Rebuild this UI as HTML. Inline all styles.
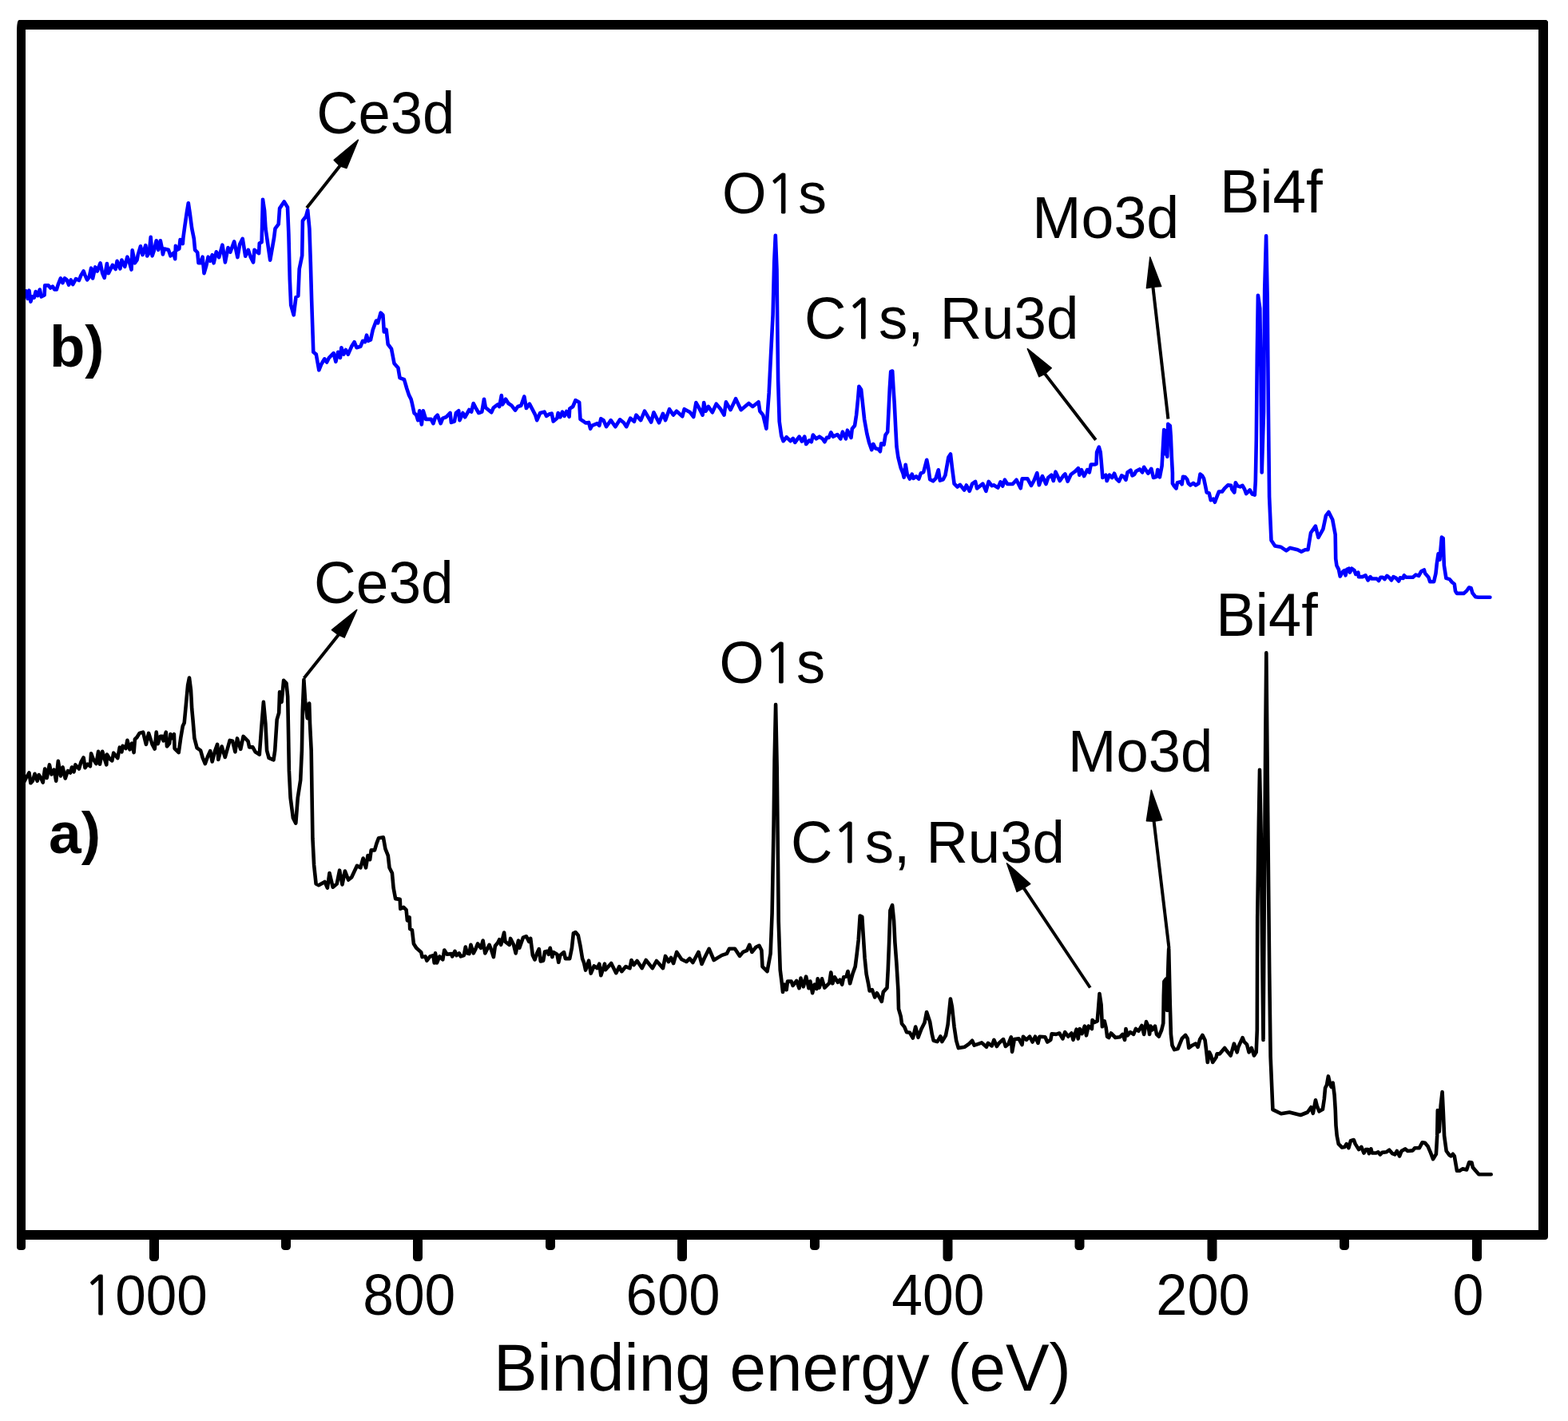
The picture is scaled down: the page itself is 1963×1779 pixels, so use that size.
<!DOCTYPE html><html><head><meta charset="utf-8"><title>XPS survey spectra</title><style>html,body{margin:0;padding:0;background:#fff;overflow:hidden;}svg{display:block;}text{font-family:"Liberation Sans",Arial,sans-serif;fill:#000;}</style></head><body>
<svg width="1963" height="1779" viewBox="0 0 1963 1779">
<rect x="0" y="0" width="1963" height="1779" fill="#fff"/>
<polyline fill="none" stroke="#0000ff" stroke-width="4.6" stroke-linejoin="round" stroke-linecap="round" points="26.0,375.2 26.3,375.2 30.1,365.0 32.6,364.4 34.6,373.9 36.5,363.7 38.4,377.7 40.3,371.4 42.8,372.6 44.7,365.0 47.3,370.1 49.8,362.5 51.7,371.4 55.6,369.5 56.2,357.4 60.7,357.4 63.2,360.5 65.8,358.6 68.3,362.5 70.8,362.5 72.8,356.1 75.9,348.4 78.5,354.2 81.0,348.4 83.6,350.4 86.1,356.7 88.7,350.4 91.2,356.1 95.0,349.1 98.9,351.0 101.4,344.6 104.6,339.5 106.5,344.6 109.1,350.4 111.6,347.2 114.1,335.7 116.1,348.4 119.2,334.4 121.8,339.5 125.6,329.3 128.2,342.1 130.7,347.8 133.9,330.0 135.8,342.1 140.9,331.9 144.7,337.0 146.6,326.8 150.4,336.3 152.4,325.5 156.2,333.8 159.4,321.7 161.9,328.1 164.5,337.6 165.7,313.4 168.9,329.3 171.5,325.5 172.7,319.1 175.9,308.3 178.5,319.1 182.3,307.1 184.2,320.4 186.7,316.6 188.7,296.9 190.6,320.4 193.1,312.8 195.7,301.3 198.2,312.8 200.8,301.3 202.7,310.2 203.9,318.5 205.8,311.5 210.9,312.8 213.5,320.4 217.3,316.6 219.2,324.2 219.9,307.7 221.8,312.8 224.3,311.5 225.6,300.0 228.8,305.1 229.4,297.5 231.3,283.5 233.9,265.7 235.8,254.2 237.7,266.9 240.2,286.0 242.8,298.8 244.1,312.8 247.2,316.0 248.5,329.3 251.1,329.3 253.6,321.7 255.5,342.1 258.1,333.2 260.6,321.7 263.2,326.8 265.7,319.1 267.6,329.3 270.8,315.3 274.2,322.1 278.4,306.6 281.9,328.4 285.5,310.1 288.3,315.7 293.2,302.4 297.4,322.1 300.2,305.9 303.7,298.9 307.2,320.7 310.8,312.9 313.6,321.4 317.1,328.4 318.5,312.9 324.1,317.1 324.8,304.5 327.6,303.1 329.0,249.7 331.1,263.7 332.5,286.2 338.2,325.6 343.1,297.5 344.5,286.2 348.7,280.6 350.1,260.9 355.7,252.5 360.0,259.5 361.4,293.2 362.8,349.5 364.2,381.8 367.7,394.4 370.5,372.0 373.3,370.5 374.7,336.8 378.2,320.0 378.9,276.4 383.1,270.8 385.2,263.0 387.4,286.2 388.8,328.4 390.2,377.6 391.6,419.7 392.3,440.8 395.8,443.6 399.3,463.3 402.1,456.3 406.3,449.3 409.1,453.5 412.0,447.8 417.6,442.2 420.4,452.8 423.2,440.8 426.0,447.8 427.4,435.2 430.2,443.6 433.0,438.0 435.8,443.6 440.1,433.8 443.6,428.2 446.4,435.2 451.3,433.8 454.1,426.8 456.9,428.2 459.0,419.7 461.1,426.8 464.0,425.4 466.8,412.7 471.0,401.5 473.1,404.3 476.6,391.6 479.4,394.4 480.8,415.5 483.6,412.7 485.7,431.0 490.0,436.6 493.5,454.9 498.4,460.5 500.5,473.1 504.7,474.6 506.0,475.2 509.3,486.5 511.9,494.4 514.6,499.7 515.9,505.0 518.5,517.0 521.2,519.6 523.2,526.2 525.2,514.3 527.8,531.5 529.8,514.3 533.1,524.9 539.7,524.9 542.4,530.2 545.0,522.3 547.7,519.6 551.7,530.2 554.3,523.6 558.3,522.3 563.6,517.0 564.9,528.9 568.9,527.5 570.9,517.0 574.2,514.3 575.5,526.2 579.5,517.0 582.1,522.3 587.4,513.0 590.1,515.6 592.7,505.0 595.4,510.3 599.3,517.0 603.3,515.6 606.0,499.7 607.9,510.3 615.2,516.3 617.9,510.3 623.2,506.4 625.2,509.0 627.8,495.1 629.1,506.4 633.1,499.7 636.4,505.0 640.4,507.7 645.0,513.6 648.3,509.0 652.3,507.7 656.3,496.4 658.9,511.0 662.9,505.7 667.5,514.3 670.2,519.6 672.2,526.2 676.2,517.0 681.5,515.6 684.1,520.9 688.1,518.3 690.7,517.6 692.7,527.5 697.4,523.6 698.7,517.0 701.3,522.3 704.0,515.6 706.6,520.9 709.3,515.0 712.6,521.6 713.2,511.7 717.2,509.0 720.5,501.1 725.2,503.7 726.5,524.9 730.5,527.5 733.1,529.5 737.1,528.9 739.1,536.8 741.1,532.8 747.7,530.2 750.3,532.8 752.3,524.2 755.6,526.2 759.0,534.2 764.7,526.1 770.4,534.2 776.1,525.3 781.0,529.3 784.2,534.2 789.1,523.6 794.0,527.7 796.4,519.6 802.2,526.1 807.0,514.7 815.2,528.5 818.4,516.3 825.0,529.3 829.9,517.9 833.1,526.1 838.0,512.2 842.9,519.6 847.0,514.7 854.3,521.2 856.7,512.2 864.1,516.3 868.2,522.0 871.4,504.1 875.5,511.4 879.6,519.6 881.2,504.1 883.6,514.7 886.9,509.0 891.8,516.3 896.7,505.7 901.6,511.4 906.5,519.6 908.9,503.3 914.6,513.1 921.1,499.2 927.6,513.1 931.7,509.8 937.4,504.9 942.3,509.0 949.6,503.3 951.3,514.7 955.3,519.6 959.4,536.7 962.7,491.9 965.1,443.0 967.6,394.1 969.2,328.9 970.8,294.7 972.5,337.0 973.3,410.4 974.1,475.6 975.7,527.7 978.2,545.6 980.6,552.2 984.7,547.3 989.6,552.2 992.8,548.9 995.3,553.9 1000.6,546.6 1003.9,552.6 1007.2,546.6 1009.2,555.9 1013.2,551.3 1015.8,553.2 1017.8,544.6 1021.8,549.3 1025.8,546.6 1029.7,549.3 1032.4,553.2 1035.0,547.9 1037.7,547.9 1040.3,541.3 1043.0,546.6 1048.3,544.0 1052.3,549.3 1054.9,540.7 1058.9,549.3 1060.9,538.7 1065.5,547.9 1066.8,536.7 1070.1,532.7 1072.1,519.5 1074.1,499.6 1075.4,483.7 1078.1,487.7 1080.1,506.2 1082.1,524.8 1085.4,543.3 1088.0,553.9 1091.3,563.2 1093.3,555.9 1096.0,561.2 1099.9,562.5 1101.9,565.2 1103.2,555.2 1106.6,556.6 1108.5,544.6 1111.2,540.7 1112.5,514.2 1113.8,486.4 1115.2,465.2 1117.2,464.5 1118.5,486.4 1119.8,506.2 1121.1,532.7 1122.5,559.2 1124.4,572.5 1127.7,585.7 1130.4,592.3 1131.7,597.6 1133.7,581.7 1135.7,593.6 1139.0,599.6 1141.7,593.6 1143.6,598.9 1147.0,596.3 1150.3,599.6 1152.9,592.3 1156.2,591.0 1160.2,575.8 1162.2,585.7 1164.2,600.3 1168.1,602.3 1171.5,598.9 1174.8,588.3 1176.8,601.6 1180.7,600.3 1183.4,595.0 1187.4,572.5 1190.0,568.5 1192.0,585.7 1194.6,605.6 1198.6,609.5 1201.9,606.9 1207.2,613.5 1209.9,607.5 1213.8,614.8 1217.2,605.6 1221.1,602.9 1223.1,611.5 1230.4,605.6 1234.4,614.8 1237.7,602.9 1241.7,608.2 1244.0,607.3 1249.3,610.6 1252.6,603.3 1255.2,608.6 1257.9,600.7 1261.2,606.0 1267.8,606.0 1272.5,600.7 1277.7,611.3 1279.7,599.3 1286.4,599.3 1291.0,607.9 1294.3,602.0 1298.3,592.1 1300.9,607.3 1304.9,596.0 1309.5,606.0 1312.2,598.0 1316.2,594.7 1318.8,602.0 1321.5,590.7 1326.8,602.0 1331.4,595.4 1333.4,593.4 1336.7,602.6 1340.7,594.0 1346.0,590.1 1349.9,586.1 1351.3,594.7 1353.9,588.1 1357.2,596.0 1361.2,588.1 1363.8,591.4 1365.8,581.5 1370.5,581.5 1372.5,580.8 1373.1,566.2 1375.8,559.6 1377.7,566.2 1379.1,582.1 1380.4,598.0 1384.4,594.7 1385.7,602.0 1389.0,594.7 1392.3,598.0 1395.0,592.7 1397.6,599.3 1400.9,602.6 1404.2,595.4 1406.9,596.7 1409.5,600.7 1411.5,591.4 1415.5,588.7 1417.5,595.4 1420.1,594.0 1422.1,590.1 1426.8,587.4 1430.1,591.4 1432.1,584.8 1437.4,592.7 1441.3,586.8 1444.0,598.0 1447.9,596.7 1449.3,588.1 1451.9,597.4 1454.6,583.4 1457.2,538.1 1458.7,539.1 1459.7,568.6 1460.8,544.2 1461.3,571.7 1462.3,530.9 1464.8,533.0 1465.8,547.2 1466.9,573.7 1467.9,592.1 1467.9,605.3 1469.9,608.4 1472.5,611.4 1474.0,604.3 1478.1,603.3 1479.6,606.3 1481.1,596.7 1483.7,597.2 1486.2,600.2 1487.8,605.3 1490.3,607.4 1493.9,604.8 1496.9,607.4 1500.5,605.3 1502.5,593.6 1505.1,595.6 1507.1,599.2 1508.6,606.3 1510.7,616.5 1513.7,617.5 1515.8,626.2 1518.8,624.7 1520.9,628.8 1523.9,620.6 1526.0,615.5 1530.0,615.5 1533.1,611.4 1537.2,607.4 1541.2,607.9 1542.3,612.5 1545.3,616.5 1546.8,604.3 1549.4,608.4 1552.5,609.4 1555.5,607.9 1558.1,612.5 1560.1,618.1 1564.7,613.5 1567.7,618.6 1570.8,619.6 1571.8,602.3 1572.8,551.3 1573.8,445.2 1574.9,369.7 1577.3,386.2 1578.5,468.8 1579.7,591.5 1582.0,516.0 1583.2,362.6 1585.1,295.3 1586.7,374.4 1587.9,516.0 1589.1,622.1 1591.5,676.4 1596.2,683.5 1603.3,684.7 1610.3,689.4 1615.1,685.9 1624.5,688.2 1629.2,690.6 1633.9,688.2 1637.5,688.2 1641.0,667.0 1646.9,658.7 1650.5,672.9 1656.4,662.3 1659.9,645.7 1663.4,641.0 1668.2,650.5 1671.7,669.3 1672.2,699.5 1673.4,708.0 1675.9,712.9 1677.7,721.5 1681.4,715.4 1683.2,714.1 1684.5,720.3 1686.3,712.9 1688.7,711.7 1690.0,716.6 1692.4,711.7 1695.5,714.1 1697.3,719.0 1700.3,716.6 1701.0,722.1 1705.8,722.1 1709.5,720.3 1712.6,726.4 1715.6,722.1 1717.5,724.5 1723.6,724.5 1726.0,727.0 1728.5,722.7 1730.9,722.7 1733.4,725.1 1736.4,720.9 1739.5,723.3 1741.9,726.4 1744.4,722.1 1748.0,723.9 1751.1,727.6 1752.9,723.3 1756.6,723.9 1757.8,720.3 1760.3,722.7 1768.8,722.7 1772.5,719.6 1776.2,720.9 1779.2,715.4 1782.9,713.5 1784.1,717.8 1788.4,722.7 1790.2,728.2 1795.1,728.2 1797.5,717.8 1798.8,705.6 1800.6,693.4 1802.4,700.7 1804.9,672.6 1806.7,673.8 1807.3,693.4 1807.9,708.0 1810.4,723.9 1814.7,725.1 1817.7,728.8 1820.8,731.3 1822.0,739.8 1823.8,742.9 1832.4,742.9 1836.1,739.8 1839.1,735.5 1841.6,736.2 1843.4,742.3 1847.1,747.2 1850.7,747.8 1865.4,747.8"/>
<polyline fill="none" stroke="#000" stroke-width="4.6" stroke-linejoin="round" stroke-linecap="round" points="26.0,979.0 30.1,979.0 32.6,973.9 36.5,967.5 38.4,980.3 40.9,977.7 43.5,968.8 46.7,977.7 48.6,970.1 51.1,973.9 53.7,979.6 56.2,962.5 58.7,973.9 61.9,957.4 64.5,969.5 67.7,963.7 70.2,977.7 72.8,952.9 75.9,971.4 78.5,960.5 81.7,974.5 84.9,965.0 88.0,967.5 90.0,960.5 92.5,966.3 94.4,957.4 98.9,962.5 101.4,954.2 104.6,948.4 106.5,961.2 109.7,956.7 112.9,959.3 114.1,943.3 116.7,950.4 120.5,956.1 123.1,940.8 125.0,956.7 128.2,940.8 130.7,949.7 133.3,957.4 133.9,944.6 137.7,950.4 140.3,952.3 142.2,942.7 147.3,949.1 149.8,935.7 152.4,941.4 153.6,933.8 157.5,937.0 159.4,926.8 162.5,938.3 165.1,930.6 167.6,942.1 168.9,925.5 171.5,923.0 174.6,917.9 179.1,916.6 182.9,931.9 186.1,917.9 190.6,931.9 193.7,937.6 195.7,916.6 197.6,931.2 200.8,921.7 203.3,921.7 204.6,927.4 207.8,916.6 209.0,934.4 212.2,930.6 213.5,919.1 216.0,924.2 217.9,919.1 218.6,937.0 223.7,942.1 226.2,924.2 228.8,909.0 230.7,905.1 233.2,878.4 235.1,858.0 237.0,848.5 239.0,864.4 240.2,887.3 241.5,901.3 243.4,924.2 246.6,936.3 251.1,939.5 253.6,948.4 256.8,956.1 260.0,947.2 263.2,940.2 265.7,953.5 268.9,940.8 272.1,931.9 273.3,951.0 273.4,950.6 277.6,934.5 281.8,948.0 287.7,926.9 291.1,927.8 294.4,941.3 297.0,924.4 301.2,937.9 304.6,921.9 310.5,927.8 312.2,935.4 316.4,935.4 319.7,941.3 324.8,944.7 327.3,910.9 329.9,878.9 332.4,905.9 334.1,939.6 336.6,948.9 342.5,951.4 344.2,939.6 346.7,900.8 349.2,892.4 350.1,866.3 352.6,878.9 355.1,851.9 358.5,855.3 360.2,872.2 361.0,914.3 361.9,964.9 363.6,998.6 366.9,1023.9 370.3,1030.6 372.8,998.6 376.2,976.7 377.9,939.6 378.8,889.0 380.4,851.1 382.1,877.2 384.7,899.1 387.2,880.6 388.0,905.9 389.7,939.6 390.6,998.6 391.4,1049.2 393.1,1082.9 395.6,1106.5 399.0,1108.2 406.6,1104.0 409.9,1111.6 412.5,1093.0 416.7,1110.7 421.7,1106.5 425.1,1089.7 428.5,1107.4 431.9,1090.5 436.1,1101.5 440.3,1098.1 447.0,1083.8 451.3,1086.3 454.6,1074.5 458.0,1086.3 460.5,1071.1 463.1,1076.2 464.7,1064.4 469.0,1064.4 471.5,1055.9 474.0,1049.2 479.9,1048.3 482.4,1062.7 485.8,1071.1 487.5,1086.3 490.9,1093.0 492.6,1111.6 495.1,1125.1 500.7,1125.9 501.3,1137.8 505.3,1135.8 508.6,1139.1 509.9,1152.4 512.6,1148.4 513.2,1163.0 515.9,1164.3 517.9,1181.5 521.2,1186.8 527.2,1192.1 528.5,1198.1 532.5,1197.4 534.4,1202.7 538.4,1197.4 542.4,1196.1 543.7,1205.4 545.0,1193.4 547.0,1205.4 550.3,1197.4 554.3,1201.4 556.3,1189.5 559.6,1194.8 564.9,1194.1 566.2,1197.4 569.5,1190.8 571.5,1196.1 574.8,1193.4 576.8,1197.4 580.8,1196.1 582.8,1185.5 584.8,1193.4 587.4,1194.1 589.4,1182.8 592.7,1193.4 595.4,1188.1 598.0,1181.5 602.0,1186.8 604.6,1177.5 607.3,1193.4 612.6,1182.8 615.2,1189.5 617.9,1198.1 619.9,1184.2 623.2,1180.2 625.2,1176.2 627.2,1182.8 631.1,1167.6 632.5,1178.9 637.7,1182.8 639.1,1174.9 643.0,1182.8 645.7,1193.4 649.0,1177.5 650.3,1186.8 655.0,1173.6 658.9,1172.3 662.3,1178.9 664.2,1174.9 666.9,1196.1 669.5,1201.4 672.2,1193.4 674.8,1188.1 676.8,1203.4 680.1,1202.7 682.1,1191.5 685.4,1190.8 686.8,1194.8 688.7,1186.8 691.4,1198.1 692.7,1192.1 697.4,1194.8 699.3,1204.7 701.3,1196.1 706.0,1192.1 707.9,1200.1 713.2,1200.1 715.9,1186.8 717.9,1168.3 720.5,1167.0 723.8,1170.9 726.5,1184.2 729.1,1200.1 731.1,1205.4 733.1,1214.6 737.1,1202.7 739.7,1218.6 743.7,1209.3 747.7,1212.0 750.3,1206.7 752.3,1221.3 757.0,1206.7 758.1,1214.1 765.2,1206.0 771.3,1218.2 775.3,1210.1 778.3,1216.2 783.4,1210.1 788.5,1212.1 790.5,1202.0 793.5,1208.1 797.6,1203.0 803.6,1212.1 808.7,1202.0 816.8,1212.1 821.9,1203.0 830.0,1212.1 833.0,1196.9 837.0,1204.0 840.1,1198.9 843.1,1206.0 847.2,1191.9 853.2,1201.0 859.3,1204.0 863.4,1200.0 867.4,1205.0 874.5,1191.9 878.5,1207.0 881.6,1200.0 887.7,1187.8 893.7,1202.0 898.8,1198.9 903.8,1195.9 909.9,1193.9 913.0,1187.8 920.0,1187.8 926.1,1196.9 930.2,1191.9 935.2,1189.8 938.3,1182.8 941.3,1191.9 946.4,1185.8 950.4,1183.8 953.4,1189.8 954.5,1210.1 960.5,1216.2 964.6,1193.9 966.6,1143.3 968.6,1031.9 969.6,951.0 971.1,882.1 972.7,961.1 973.7,1052.2 974.7,1153.4 976.7,1214.1 978.7,1230.1 980.0,1241.9 982.0,1232.6 984.6,1239.2 986.0,1228.6 990.6,1228.6 992.6,1233.9 997.2,1227.9 1000.5,1237.2 1002.5,1224.6 1005.8,1235.2 1009.1,1222.6 1012.5,1237.2 1014.4,1228.6 1017.1,1243.2 1019.7,1232.6 1022.4,1237.9 1023.7,1225.3 1025.7,1236.6 1029.0,1225.3 1032.3,1236.6 1038.3,1230.6 1040.3,1217.4 1042.3,1231.3 1044.9,1223.3 1048.9,1229.9 1051.5,1226.6 1054.2,1232.6 1056.2,1223.3 1059.5,1222.6 1061.5,1216.0 1064.1,1231.3 1067.4,1219.3 1070.7,1210.1 1072.7,1194.2 1074.7,1177.0 1076.7,1146.5 1079.3,1147.8 1080.7,1170.3 1082.6,1199.5 1084.6,1219.3 1087.3,1232.6 1088.6,1240.5 1091.9,1239.2 1095.2,1248.5 1097.9,1243.2 1101.2,1249.1 1103.8,1253.8 1105.8,1241.9 1110.5,1236.6 1111.8,1212.7 1113.1,1179.6 1114.4,1139.9 1117.1,1133.2 1119.1,1153.1 1120.4,1179.6 1122.4,1206.1 1124.4,1239.2 1125.0,1263.0 1127.7,1272.3 1129.0,1281.6 1132.3,1285.6 1135.0,1292.2 1138.9,1292.8 1142.9,1299.5 1146.2,1285.6 1149.5,1298.8 1153.5,1288.2 1157.5,1280.3 1160.1,1267.0 1164.1,1278.9 1166.8,1294.8 1168.7,1302.8 1173.4,1304.1 1177.4,1297.5 1179.3,1304.1 1184.0,1296.2 1186.6,1282.9 1189.9,1250.5 1191.9,1260.4 1194.6,1285.6 1197.2,1302.8 1199.9,1312.1 1207.8,1310.7 1213.1,1306.8 1217.1,1302.8 1219.7,1308.7 1225.0,1306.8 1229.0,1305.4 1235.0,1310.7 1236.9,1305.9 1241.7,1309.4 1244.4,1301.8 1247.9,1310.0 1250.6,1305.9 1256.1,1301.1 1258.9,1310.0 1262.3,1307.3 1265.8,1298.3 1267.1,1316.9 1269.9,1301.1 1275.4,1300.4 1279.5,1308.0 1280.9,1297.7 1285.0,1301.8 1289.1,1297.7 1292.6,1304.5 1296.0,1297.7 1299.5,1305.9 1301.5,1297.7 1308.4,1298.3 1311.2,1304.5 1315.3,1301.8 1316.7,1294.2 1322.2,1294.9 1326.3,1293.5 1330.4,1300.4 1333.2,1292.2 1337.3,1297.7 1341.4,1293.5 1343.5,1301.8 1347.6,1288.7 1349.7,1300.4 1351.7,1288.0 1354.5,1294.2 1357.9,1284.6 1360.0,1296.3 1362.7,1284.6 1366.9,1288.0 1367.6,1277.0 1370.3,1279.8 1373.7,1278.4 1375.1,1261.9 1376.5,1244.0 1378.6,1257.8 1379.9,1285.3 1382.7,1278.4 1384.7,1286.7 1386.1,1297.7 1388.2,1299.0 1390.9,1293.5 1396.4,1299.0 1401.9,1298.3 1405.4,1294.9 1408.1,1301.8 1409.5,1288.0 1411.6,1296.3 1415.0,1292.2 1419.1,1294.9 1421.9,1288.0 1425.3,1290.8 1429.4,1283.9 1432.2,1294.9 1435.0,1279.1 1437.7,1285.3 1439.1,1294.9 1440.5,1284.6 1442.5,1289.4 1446.0,1284.6 1448.0,1294.9 1450.8,1297.7 1454.2,1289.5 1456.3,1281.0 1456.8,1246.8 1457.4,1228.6 1460.0,1225.4 1461.1,1264.9 1461.6,1236.1 1462.7,1200.9 1463.2,1188.1 1464.8,1257.5 1465.9,1294.8 1467.5,1308.7 1470.2,1314.1 1474.5,1313.0 1479.8,1300.2 1484.1,1295.9 1486.7,1300.2 1488.3,1311.9 1492.6,1308.7 1496.9,1306.6 1499.6,1310.8 1502.2,1301.2 1505.4,1295.9 1508.6,1302.3 1510.2,1315.1 1511.8,1330.0 1514.0,1317.3 1516.1,1321.5 1518.2,1330.0 1522.5,1323.7 1523.6,1319.4 1526.8,1319.4 1533.2,1311.9 1535.3,1315.1 1540.7,1321.5 1544.9,1306.6 1548.7,1317.3 1550.3,1310.8 1555.6,1299.1 1557.7,1304.4 1561.0,1307.6 1563.6,1317.3 1566.8,1311.9 1570.0,1321.5 1572.7,1317.3 1573.8,1289.5 1574.2,1148.6 1575.9,1026.6 1577.0,963.8 1578.7,1044.0 1580.1,1183.4 1581.5,1301.9 1582.9,1113.7 1584.3,922.0 1585.3,817.4 1587.1,1009.1 1589.2,1218.3 1590.6,1322.8 1593.4,1389.1 1603.8,1394.3 1614.3,1392.5 1628.2,1396.0 1636.9,1392.5 1641.3,1386.2 1643.8,1393.9 1647.0,1377.3 1648.9,1385.0 1651.5,1391.3 1655.9,1388.8 1657.8,1376.0 1659.1,1362.0 1661.0,1358.2 1662.9,1347.4 1665.5,1358.2 1666.7,1360.8 1668.7,1355.7 1670.6,1370.9 1671.8,1390.0 1672.5,1409.1 1673.7,1421.9 1675.7,1432.1 1680.1,1436.5 1683.3,1435.9 1685.8,1432.1 1688.4,1437.2 1690.9,1428.3 1694.8,1427.0 1696.7,1432.1 1701.1,1439.1 1704.3,1435.9 1707.5,1443.5 1710.0,1439.1 1712.6,1439.1 1713.9,1444.2 1716.4,1438.4 1717.7,1443.5 1722.8,1443.5 1725.3,1442.3 1727.9,1445.4 1730.4,1442.9 1735.5,1442.3 1739.3,1439.7 1743.2,1444.2 1746.3,1445.4 1748.9,1441.0 1752.1,1447.4 1754.6,1441.0 1759.1,1438.4 1762.3,1441.0 1768.6,1440.4 1771.2,1437.2 1776.9,1437.2 1780.7,1430.2 1783.9,1430.8 1787.7,1435.3 1790.9,1442.9 1794.1,1451.2 1797.9,1444.8 1799.2,1421.9 1799.8,1390.0 1801.7,1416.8 1803.7,1383.7 1805.6,1367.1 1806.8,1391.3 1808.1,1421.9 1810.7,1441.0 1814.5,1446.1 1816.4,1447.4 1818.9,1444.8 1820.8,1447.4 1824.0,1465.8 1827.2,1465.8 1831.0,1463.3 1836.1,1464.5 1839.3,1455.0 1842.5,1455.6 1843.8,1461.4 1847.0,1465.2 1851.4,1470.3 1866.7,1470.3"/>
<line x1="384" y1="260.3" x2="425.5" y2="207.7" stroke="#000" stroke-width="4"/>
<polygon fill="#000" stroke="#000" stroke-width="1.5" stroke-linejoin="round" points="448.4,175.2 418.2,200.4 425.5,207.7 433.9,210.5"/>
<line x1="380.6" y1="849.1" x2="423.8" y2="794.8" stroke="#000" stroke-width="4"/>
<polygon fill="#000" stroke="#000" stroke-width="1.5" stroke-linejoin="round" points="446.8,763.4 415.4,788.6 423.8,794.8 431.1,798.1"/>
<line x1="1371.8" y1="550.7" x2="1308.2" y2="468.1" stroke="#000" stroke-width="4"/>
<polygon fill="#000" stroke="#000" stroke-width="1.5" stroke-linejoin="round" points="1286.3,436.7 1300.9,471.7 1308.2,468.1 1316.3,460.8"/>
<line x1="1462.4" y1="524.4" x2="1443.4" y2="359.2" stroke="#000" stroke-width="4"/>
<polygon fill="#000" stroke="#000" stroke-width="1.5" stroke-linejoin="round" points="1439.8,321.9 1435.4,360.7 1443.4,359.2 1453.7,358.5"/>
<line x1="1364.8" y1="1236.5" x2="1281.7" y2="1111.8" stroke="#000" stroke-width="4"/>
<polygon fill="#000" stroke="#000" stroke-width="1.5" stroke-linejoin="round" points="1260.5,1080.7 1273.1,1116.4 1281.7,1111.8 1289.7,1106.5"/>
<line x1="1463.5" y1="1187" x2="1444.6" y2="1028.3" stroke="#000" stroke-width="4"/>
<polygon fill="#000" stroke="#000" stroke-width="1.5" stroke-linejoin="round" points="1441.3,989.3 1435.4,1027.7 1444.6,1028.3 1454.6,1026.4"/>
<path d="M21 40 Q21 25 24 25 H1936 L1938 27 V1548 Q1938 1552 1934 1552 H21 Z M32 37 V1540 H1926 V37 Z" fill="#000" fill-rule="evenodd"/>
<rect x="21" y="1540" width="11" height="25" rx="4" fill="#000"/>
<rect x="187" y="1540" width="12" height="39" rx="4.5" fill="#000"/>
<rect x="517" y="1540" width="12" height="39" rx="4.5" fill="#000"/>
<rect x="848" y="1540" width="12" height="39" rx="4.5" fill="#000"/>
<rect x="1180.5" y="1540" width="12" height="39" rx="4.5" fill="#000"/>
<rect x="1511.5" y="1540" width="12" height="39" rx="4.5" fill="#000"/>
<rect x="1843" y="1540" width="12" height="39" rx="4.5" fill="#000"/>
<rect x="352" y="1540" width="12" height="25" rx="4.5" fill="#000"/>
<rect x="683" y="1540" width="12" height="25" rx="4.5" fill="#000"/>
<rect x="1014" y="1540" width="12" height="25" rx="4.5" fill="#000"/>
<rect x="1345.5" y="1540" width="12" height="25" rx="4.5" fill="#000"/>
<rect x="1677" y="1540" width="12" height="25" rx="4.5" fill="#000"/>
<text x="396.2" y="166.8" font-size="72.4" transform="matrix(1 0 0 1.0150 0 -2.50)">Ce3d</text>
<text x="904.0" y="266.7" font-size="71.4" transform="matrix(1 0 0 1.0150 0 -4.00)">O<tspan x="958.4" font-family="NanumGothic,Liberation Sans,sans-serif" font-size="66.3" stroke="#000" stroke-width="1">1</tspan><tspan x="999.3">s</tspan></text>
<text x="1292.2" y="298.2" font-size="73.6" transform="matrix(1 0 0 1.0150 0 -4.47)">Mo3d</text>
<text x="1527.1" y="266.2" font-size="74.7" transform="matrix(1 0 0 1.0150 0 -3.99)">Bi4f</text>
<text x="1007.0" y="423.9" font-size="72.7" transform="matrix(1 0 0 1.0150 0 -6.36)">C<tspan x="1058.2" font-family="NanumGothic,Liberation Sans,sans-serif" font-size="67.5" stroke="#000" stroke-width="1">1</tspan><tspan x="1099.9">s, Ru3d</tspan></text>
<text x="61.9" y="458.8" font-size="72.7" font-weight="bold">b)</text>
<text x="393.0" y="754.6" font-size="73.1" transform="matrix(1 0 0 1.0150 0 -11.32)">Ce3d</text>
<text x="900.6" y="855.5" font-size="72.2" transform="matrix(1 0 0 1.0150 0 -12.83)">O<tspan x="955.5" font-family="NanumGothic,Liberation Sans,sans-serif" font-size="67.0" stroke="#000" stroke-width="1">1</tspan><tspan x="996.9">s</tspan></text>
<text x="1522.2" y="796.5" font-size="74.0" transform="matrix(1 0 0 1.0150 0 -11.95)">Bi4f</text>
<text x="1337.1" y="965.9" font-size="72.5" transform="matrix(1 0 0 1.0150 0 -14.49)">Mo3d</text>
<text x="989.9" y="1079.8" font-size="72.6" transform="matrix(1 0 0 1.0150 0 -16.20)">C<tspan x="1041.2" font-family="NanumGothic,Liberation Sans,sans-serif" font-size="67.4" stroke="#000" stroke-width="1">1</tspan><tspan x="1082.8">s, Ru3d</tspan></text>
<text x="61.0" y="1068.0" font-size="73.1" font-weight="bold">a)</text>
<text x="617.9" y="1740.8" font-size="81.8" transform="matrix(1 0 0 1.0150 0 -26.11)">Binding energy (eV)</text>
<text x="105.8" y="1645.8" font-size="69.2" transform="matrix(1 0 0 1.0300 0 -49.37)"><tspan x="104.6" font-family="NanumGothic,Liberation Sans,sans-serif" font-size="64.3" stroke="#000" stroke-width="1">1</tspan><tspan x="144.3">000</tspan></text>
<text x="454.3" y="1645.8" font-size="69.5" transform="matrix(1 0 0 1.0300 0 -49.37)">800</text>
<text x="783.6" y="1645.8" font-size="70.7" transform="matrix(1 0 0 1.0300 0 -49.37)">600</text>
<text x="1116.3" y="1645.8" font-size="69.6" transform="matrix(1 0 0 1.0300 0 -49.37)">400</text>
<text x="1447.2" y="1645.8" font-size="70.5" transform="matrix(1 0 0 1.0300 0 -49.37)">200</text>
<text x="1818.4" y="1645.8" font-size="70.0" transform="matrix(1 0 0 1.0300 0 -49.37)">0</text>
</svg></body></html>
